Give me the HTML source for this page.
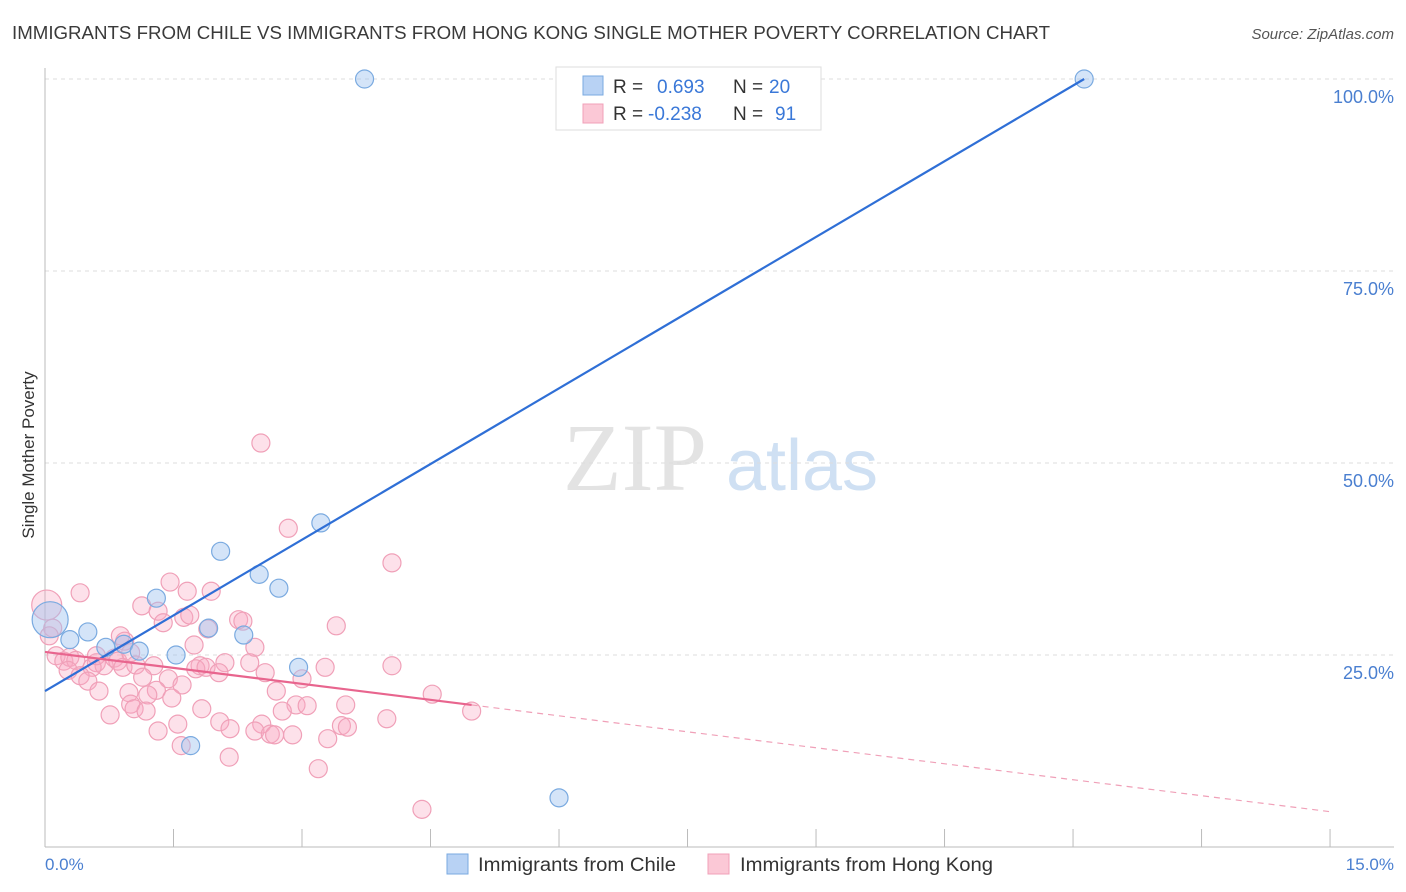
<!DOCTYPE html>
<html><head><meta charset="utf-8"><style>
body{margin:0;background:#fff;font-family:"Liberation Sans",sans-serif;}
svg{display:block}
</style></head><body>
<svg id="chart" width="1406" height="892">
<text x="12" y="39" font-size="18" fill="#3a3a3a" textLength="1038" lengthAdjust="spacingAndGlyphs">IMMIGRANTS FROM CHILE VS IMMIGRANTS FROM HONG KONG SINGLE MOTHER POVERTY CORRELATION CHART</text>
<text x="1394" y="39" font-size="15" fill="#555" font-style="italic" text-anchor="end">Source: ZipAtlas.com</text>
<g>
<text x="635" y="490" font-size="96" font-family="Liberation Serif,serif" fill="#e3e3e3" text-anchor="middle">ZIP</text>
<text x="802" y="490" font-size="72" fill="#cfe0f3" text-anchor="middle">atlas</text>
</g>
<g id="grid"></g>
<g id="axes"></g>
<g id="pts"></g>
<g id="trends"></g>
<text transform="translate(34,455) rotate(-90)" font-size="17" fill="#333" text-anchor="middle">Single Mother Poverty</text>
<text x="45" y="870" font-size="17" fill="#4a7fd0">0.0%</text>
<text x="1394" y="870" font-size="17" fill="#4a7fd0" text-anchor="end">15.0%</text>
<g>
<rect x="556" y="67" width="265" height="63" fill="#fff" stroke="#ddd"/>
<rect x="583" y="76" width="20" height="19" fill="#b8d2f4" stroke="#7aaae0"/>
<text x="613" y="93" font-size="19" fill="#333">R =</text>
<text x="657" y="93" font-size="19" fill="#3a78d8">0.693</text>
<text x="733" y="93" font-size="19" fill="#333">N =</text>
<text x="769" y="93" font-size="19" fill="#3a78d8">20</text>
<rect x="583" y="104" width="20" height="19" fill="#fbc8d6" stroke="#f0a0b8"/>
<text x="613" y="120" font-size="19" fill="#333">R =</text>
<text x="648" y="120" font-size="19" fill="#3a78d8">-0.238</text>
<text x="733" y="120" font-size="19" fill="#333">N =</text>
<text x="775" y="120" font-size="19" fill="#3a78d8">91</text>
</g>
<g>
<rect x="447" y="854" width="21" height="20" fill="#b8d2f4" stroke="#7aaae0"/>
<text x="478" y="871" font-size="19" fill="#333" textLength="198" lengthAdjust="spacingAndGlyphs">Immigrants from Chile</text>
<rect x="708" y="854" width="21" height="20" fill="#fbc8d6" stroke="#f0a0b8"/>
<text x="740" y="871" font-size="19" fill="#333" textLength="253" lengthAdjust="spacingAndGlyphs">Immigrants from Hong Kong</text>
</g>
</svg>
<script>
const yTicks=[25,50,75,100];
const yTickLabels=["25.0%","50.0%","75.0%","100.0%"];
const xTicks=[0,1.5,3,4.5,6,7.5,9,10.5,12,13.5,15];
const chileX=[3.73,7.96,12.13,3.22,2.05,2.5,2.73,1.3,0.5,1.91,2.32,0.29,0.71,0.92,1.1,1.53,2.96,1.7,6.0,0.06];
const chileY=[100,100,100,42.2,38.5,35.5,33.7,32.4,28.0,28.5,27.6,27.0,26.0,26.4,25.5,25.0,23.4,13.2,6.4,29.6];
const chileR=[9,9,9,9,9,9,9,9,9,9,9,9,9,9,9,9,9,9,9,18];
const hkX=[2.52,2.84,4.05,0.41,1.46,1.13,1.66,1.94,1.32,1.62,1.69,1.38,2.26,2.31,3.40,1.90,0.09,0.02,0.88,0.93,1.74,2.45,0.13,0.22,0.29,0.36,0.60,0.69,0.81,0.85,0.55,0.91,1.06,1.27,1.81,1.76,1.88,2.10,2.39,2.57,2.03,3.27,4.05,0.27,0.41,0.50,1.14,1.44,1.60,3.0,2.70,0.63,0.98,1.30,1.20,1.48,4.52,1.00,2.93,3.06,3.51,1.04,1.18,1.83,2.77,4.98,0.76,2.04,3.99,1.55,2.53,3.46,3.53,1.32,2.16,2.45,2.63,2.68,2.89,3.30,1.59,2.15,3.19,4.40,0.05,0.6,1.0];
const hkY=[52.6,41.5,37.0,33.1,34.5,31.4,33.3,33.3,30.7,29.9,30.2,29.2,29.6,29.4,28.8,28.4,28.5,31.5,27.5,26.8,26.3,26.0,24.9,24.2,24.7,24.3,24.0,23.6,24.6,24.2,23.4,23.4,23.7,23.6,23.6,23.2,23.4,24.0,24.0,22.7,22.7,23.4,23.6,23.0,22.3,21.6,22.1,21.9,21.1,21.9,20.3,20.3,20.1,20.4,19.8,19.4,19.9,18.6,18.5,18.4,18.5,18.0,17.7,18.0,17.7,17.7,17.2,16.3,16.7,16.0,16.0,15.8,15.6,15.1,15.4,15.1,14.7,14.6,14.6,14.1,13.2,11.7,10.2,4.9,27.5,24.9,25.3];
const chileTrend=[20.3,100,12.13];
const hkTrend=[25.4,4.6,4.98];
const X=v=>45+v*85.67, Y=v=>847-v*7.68;
const NS="http://www.w3.org/2000/svg";
function mk(p,t,a){const e=document.createElementNS(NS,t);for(const k in a)e.setAttribute(k,a[k]);p.appendChild(e);return e;}
const grid=document.getElementById('grid'),axes=document.getElementById('axes'),pts=document.getElementById('pts'),tr=document.getElementById('trends');
yTicks.forEach((v,i)=>{
 const l=mk(grid,'line',{x1:45,x2:1394,y1:Y(v),y2:Y(v),stroke:'#ddd','stroke-dasharray':'4,4'});
 
 
 const t=mk(axes,'text',{x:1394,y:Y(v)+24,'font-size':18,fill:'#4a7fd0','text-anchor':'end'});
 t.textContent=yTickLabels[i];
 
 
});
const xa=mk(axes,'line',{x1:45,x2:1394,y1:847,y2:847,stroke:'#bbb'});


const ya=mk(axes,'line',{x1:45,x2:45,y1:68,y2:847,stroke:'#bbb'});


xTicks.forEach(v=>{
 const t=mk(axes,'line',{x1:X(v),x2:X(v),y1:829,y2:847,stroke:'#bbb'});
 
 
});
hkX.forEach((v,i)=>{
 const c=mk(pts,'circle',{cx:X(v),cy:Y(hkY[i]),r:(i==17?15:9),fill:'rgba(248,170,195,0.35)',stroke:'#f0a0b8','stroke-width':1.2});
 
 
});
chileX.forEach((v,i)=>{
 const c=mk(pts,'circle',{cx:X(v),cy:Y(chileY[i]),r:chileR[i],fill:'rgba(160,195,240,0.45)',stroke:'#7aaae0','stroke-width':1.2});
 
 
});
const b=mk(tr,'line',{x1:X(0),y1:Y(chileTrend[0]),x2:X(chileTrend[2]),y2:Y(chileTrend[1]),stroke:'#2f6fd6','stroke-width':2.2});


const hy=x=>hkTrend[0]+(hkTrend[1]-hkTrend[0])*x/15;
const p1=mk(tr,'line',{x1:X(0),y1:Y(hy(0)),x2:X(hkTrend[2]),y2:Y(hy(hkTrend[2])),stroke:'#e8658e','stroke-width':2.2});


const p2=mk(tr,'line',{x1:X(hkTrend[2]),y1:Y(hy(hkTrend[2])),x2:X(15),y2:Y(hy(15)),stroke:'#f0a0b8','stroke-width':1.2,'stroke-dasharray':'6,5'});


</script>
</body></html>
